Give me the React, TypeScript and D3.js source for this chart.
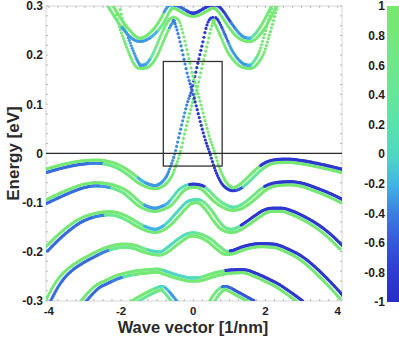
import React, { useMemo } from "react";
import * as d3 from "d3";

// knot: [wave vector k (1/nm), energy E (eV), colour value of upper strand, colour value of lower strand]
type Knot = [number, number, number, number];

const kTicks = [-4, -2, 0, 2, 4];
const eTicks = [0.3, 0.2, 0.1, 0, -0.1, -0.2, -0.3];
const cTicks = [1, 0.8, 0.6, 0.4, 0.2, 0, -0.2, -0.4, -0.6, -0.8, -1];
const cStops = [-1, -0.8, -0.6, -0.4, -0.2, 0, 0.2, 0.4, 0.6, 0.8, 1];
const cColors = ["#2a2ec6", "#2e3cd0", "#3458da", "#3b80e0", "#42b5e5", "#50d8c0", "#5ae2ac", "#65e69a", "#6ee88a", "#74e87a", "#78e86e"];

const boxK = [-0.83, 0.8];
const boxE = [-0.026, 0.187];

const bandU: Knot[] = [
  [-2.31, 0.302, 0.9, 0.8], [-2.15, 0.283, 0.9, 0.8], [-2.0, 0.266, 0.9, 0.6], [-1.85, 0.252, 0.9, -0.3],
  [-1.68, 0.238, 0.9, -0.3], [-1.48, 0.231, 0.9, -0.3], [-1.3, 0.235, 0.9, -0.3], [-1.11, 0.246, 0.9, -0.2],
  [-0.95, 0.26, 0.9, 0.5], [-0.83, 0.274, 0.9, 0.8], [-0.7, 0.292, -0.3, 0.9], [-0.6, 0.299, -0.3, 0.9],
  [-0.45, 0.297, -0.5, 0.9], [-0.3, 0.291, -0.5, 0.9], [-0.15, 0.285, -0.7, 0.9], [0, 0.282, -0.8, 0.9],
  [0.15, 0.285, -0.85, 0.9], [0.3, 0.291, -0.85, 0.9], [0.45, 0.297, -0.85, 0.9], [0.6, 0.299, -0.85, 0.9],
  [0.75, 0.29, -0.85, 0.9], [0.9, 0.274, -0.7, 0.9], [1.05, 0.258, -0.4, 0.9], [1.2, 0.244, -0.3, 0.9],
  [1.4, 0.233, -0.3, 0.9], [1.57, 0.231, -0.2, 0.9], [1.75, 0.24, 0.3, 0.9], [1.95, 0.26, 0.8, 0.9],
  [2.1, 0.28, 0.8, 0.9], [2.25, 0.302, 0.8, 0.9],
];

const bandL1: Knot[] = [
  [-2.12, 0.302, 0.8, 0.9], [-2.03, 0.272, 0.8, 0.9], [-1.94, 0.25, 0.8, 0.9], [-1.85, 0.231, -0.3, 0.9],
  [-1.72, 0.206, -0.3, 0.9], [-1.6, 0.186, -0.3, 0.9], [-1.48, 0.176, -0.3, 0.9], [-1.33, 0.177, -0.3, 0.9],
  [-1.2, 0.184, -0.2, 0.9], [-1.05, 0.202, 0.4, 0.9], [-0.92, 0.224, 0.7, 0.9], [-0.78, 0.248, 0.8, 0.9],
  [-0.66, 0.265, 0.9, -0.3], [-0.55, 0.274, 0.9, -0.4], [-0.47, 0.27, 0.9, -0.4], [-0.4, 0.256, 0.9, -0.4],
  [-0.3, 0.228, 0.9, -0.4], [-0.2, 0.196, 0.9, -0.4], [-0.1, 0.163, 0.9, -0.4], [0.03, 0.13, 0.9, -0.6],
  [0.15, 0.097, 0.9, -0.85], [0.28, 0.06, 0.9, -0.85], [0.4, 0.028, 0.9, -0.85], [0.53, 0.0, 0.9, -0.85],
  [0.63, -0.024, 0.9, -0.85], [0.73, -0.043, 0.9, -0.85], [0.85, -0.06, 0.9, -0.85], [0.97, -0.069, 0.9, -0.85],
  [1.1, -0.073, 0.9, -0.85], [1.25, -0.07, 0.9, -0.6], [1.4, -0.062, 0.9, 0.2], [1.6, -0.048, 0.9, 0.3],
  [1.8, -0.034, 0.9, 0.5], [2.0, -0.023, -0.85, 0.9], [2.3, -0.016, -0.85, 0.9], [2.6, -0.015, -0.85, 0.9],
  [3.0, -0.018, -0.85, 0.9], [3.5, -0.025, -0.85, 0.9], [4.13, -0.036, -0.85, 0.9],
];

const bandL2: Knot[] = [
  [-4.09, -0.036, 0.9, -0.5], [-3.6, -0.026, 0.9, -0.5], [-3.1, -0.019, 0.9, -0.5], [-2.68, -0.017, 0.9, -0.4],
  [-2.3, -0.021, 0.9, 0.6], [-2.0, -0.03, 0.9, 0.7], [-1.7, -0.045, 0.9, 0.7], [-1.45, -0.059, -0.2, 0.9],
  [-1.25, -0.066, -0.3, 0.9], [-1.06, -0.069, -0.3, 0.9], [-0.92, -0.066, -0.3, 0.9], [-0.78, -0.058, -0.3, 0.9],
  [-0.65, -0.044, -0.35, 0.9], [-0.55, -0.025, -0.35, 0.9], [-0.44, 0.0, -0.35, 0.9], [-0.3, 0.043, -0.35, 0.9],
  [-0.2, 0.073, -0.35, 0.9], [-0.1, 0.101, -0.4, 0.9], [0.03, 0.13, -0.6, 0.9], [0.13, 0.162, -0.85, 0.9],
  [0.23, 0.194, -0.85, 0.9], [0.33, 0.225, -0.85, 0.9], [0.42, 0.254, -0.85, 0.9], [0.5, 0.27, -0.85, 0.9],
  [0.57, 0.274, -0.85, 0.9], [0.66, 0.265, -0.7, 0.9], [0.8, 0.243, -0.5, 0.9], [1.0, 0.21, -0.3, 0.9],
  [1.2, 0.189, -0.3, 0.9], [1.4, 0.178, -0.3, 0.9], [1.57, 0.176, -0.2, 0.9], [1.75, 0.187, 0.3, 0.9],
  [1.9, 0.207, 0.8, 0.9], [2.02, 0.236, 0.8, 0.9], [2.12, 0.262, 0.8, 0.9], [2.2, 0.284, 0.8, 0.9],
  [2.27, 0.302, 0.8, 0.9],
];

const bandV2: Knot[] = [
  [-4.09, -0.099, 0.9, -0.5], [-3.8, -0.089, 0.9, -0.5], [-3.4, -0.076, 0.9, -0.5], [-3.0, -0.066, 0.9, -0.5],
  [-2.7, -0.063, 0.9, -0.4], [-2.4, -0.065, 0.9, -0.3], [-2.1, -0.071, 0.9, 0.5], [-1.9, -0.078, 0.9, 0.6],
  [-1.7, -0.09, 0.9, 0.6], [-1.5, -0.103, 0.7, 0.9], [-1.3, -0.111, -0.3, 0.9], [-1.06, -0.115, -0.3, 0.9],
  [-0.85, -0.111, -0.3, 0.9], [-0.65, -0.103, -0.2, 0.9], [-0.5, -0.09, 0.1, 0.9], [-0.37, -0.078, 0.1, 0.9],
  [-0.2, -0.069, 0.1, 0.9], [0, -0.066, -0.85, 0.9], [0.2, -0.068, -0.85, 0.9], [0.37, -0.077, 0.4, 0.9],
  [0.5, -0.087, 0.6, 0.9], [0.65, -0.097, 0.6, 0.9], [0.85, -0.107, 0.5, 0.9], [1.1, -0.113, 0.2, 0.9],
  [1.3, -0.11, 0.4, 0.9], [1.5, -0.101, 0.6, 0.9], [1.7, -0.089, 0.7, 0.9], [1.9, -0.076, 0.7, 0.9],
  [2.1, -0.067, -0.85, 0.9], [2.4, -0.062, -0.85, 0.9], [2.7, -0.061, -0.85, 0.9], [3.0, -0.064, -0.85, 0.9],
  [3.4, -0.074, -0.85, 0.9], [3.8, -0.086, -0.85, 0.9], [4.13, -0.098, -0.85, 0.9],
];

const bandV3: Knot[] = [
  [-4.09, -0.197, 0.9, -0.5], [-3.75, -0.172, 0.9, -0.5], [-3.5, -0.156, 0.9, -0.5], [-3.2, -0.14, 0.9, -0.5],
  [-2.95, -0.131, 0.9, -0.5], [-2.6, -0.124, 0.9, -0.4], [-2.3, -0.122, 0.9, 0.5], [-2.0, -0.127, 0.9, 0.6],
  [-1.75, -0.136, 0.9, 0.6], [-1.5, -0.147, 0.6, 0.9], [-1.29, -0.154, -0.2, 0.9], [-1.06, -0.158, -0.2, 0.9],
  [-0.85, -0.153, -0.2, 0.9], [-0.65, -0.142, 0.0, 0.9], [-0.45, -0.126, 0.0, 0.9], [-0.28, -0.112, 0.0, 0.9],
  [-0.1, -0.1, 0.0, 0.9], [0.1, -0.097, 0.1, 0.9], [0.3, -0.105, 0.6, 0.9], [0.46, -0.119, 0.7, 0.9],
  [0.65, -0.139, 0.7, 0.9], [0.83, -0.153, 0.6, 0.9], [1.06, -0.158, 0.4, 0.9], [1.25, -0.154, 0.4, 0.9],
  [1.45, -0.145, -0.85, 0.9], [1.76, -0.129, -0.85, 0.9], [2.0, -0.118, -0.85, 0.9], [2.2, -0.115, -0.85, 0.9],
  [2.45, -0.115, -0.85, 0.9], [2.7, -0.12, -0.85, 0.9], [3.0, -0.13, -0.85, 0.9], [3.42, -0.148, -0.85, 0.9],
  [3.8, -0.17, -0.85, 0.9], [4.13, -0.194, -0.85, 0.9],
];

const bandV4: Knot[] = [
  [-4.03, -0.302, 0.9, -0.5], [-3.8, -0.27, 0.9, -0.5], [-3.6, -0.25, 0.9, -0.5], [-3.4, -0.236, 0.9, -0.5],
  [-3.1, -0.221, 0.9, -0.5], [-2.8, -0.209, 0.9, -0.5], [-2.5, -0.198, 0.9, -0.4], [-2.2, -0.191, 0.9, 0.5],
  [-1.94, -0.188, 0.9, 0.6], [-1.66, -0.19, 0.9, 0.6], [-1.39, -0.197, 0.6, 0.9], [-1.15, -0.202, 0.0, 0.9],
  [-0.92, -0.204, 0.0, 0.9], [-0.72, -0.197, 0.0, 0.9], [-0.55, -0.187, 0.0, 0.9], [-0.35, -0.176, 0.1, 0.9],
  [-0.18, -0.168, 0.1, 0.9], [0, -0.165, 0.3, 0.9], [0.2, -0.168, 0.7, 0.9], [0.46, -0.178, 0.7, 0.9],
  [0.7, -0.193, 0.7, 0.9], [0.92, -0.203, 0.7, 0.9], [1.1, -0.201, -0.85, 0.9], [1.4, -0.193, -0.85, 0.9],
  [1.85, -0.187, -0.85, 0.9], [2.2, -0.188, -0.85, 0.9], [2.6, -0.198, -0.85, 0.9], [2.96, -0.212, -0.85, 0.9],
  [3.3, -0.232, -0.85, 0.9], [3.6, -0.253, -0.85, 0.9], [3.9, -0.276, -0.85, 0.9], [4.13, -0.295, -0.85, 0.9],
];

const bandV5: Knot[] = [
  [-3.06, -0.303, 0.9, -0.5], [-2.85, -0.285, 0.9, -0.5], [-2.68, -0.273, 0.9, -0.5], [-2.4, -0.262, 0.9, -0.5],
  [-2.1, -0.252, 0.9, -0.4], [-1.8, -0.246, 0.9, 0.3], [-1.5, -0.242, 0.8, 0.9], [-1.2, -0.24, 0.8, 0.9],
  [-1.0, -0.239, 0.7, 0.9], [-0.75, -0.244, 0.0, 0.9], [-0.55, -0.249, 0.0, 0.9], [-0.3, -0.254, 0.0, 0.9],
  [-0.09, -0.257, 0.0, 0.9], [0.1, -0.257, 0.1, 0.9], [0.3, -0.254, 0.6, 0.9], [0.46, -0.25, 0.8, 0.9],
  [0.65, -0.246, 0.8, 0.9], [0.83, -0.243, 0.8, 0.9], [1.0, -0.241, -0.85, 0.9], [1.38, -0.24, -0.85, 0.9],
  [1.7, -0.247, -0.85, 0.9], [2.03, -0.258, -0.85, 0.9], [2.3, -0.268, -0.85, 0.9], [2.59, -0.282, -0.85, 0.9],
  [2.8, -0.293, -0.85, 0.9], [3.0, -0.304, -0.85, 0.9],
];

const bandV6L: Knot[] = [
  [-1.68, -0.304, 0.9, 0.4], [-1.4, -0.292, 0.9, 0.4], [-1.15, -0.282, 0.9, 0.4], [-0.95, -0.276, 0.2, 0.9],
  [-0.87, -0.274, 0.0, 0.9], [-0.78, -0.279, -0.2, 0.6], [-0.65, -0.29, -0.3, 0.5], [-0.5, -0.304, -0.3, 0.5],
];

const bandV6R: Knot[] = [
  [0.5, -0.304, 0.9, 0.7], [0.62, -0.29, 0.9, 0.7], [0.75, -0.279, 0.6, 0.9], [0.88, -0.274, -0.5, 0.9],
  [0.97, -0.276, -0.5, 0.9], [1.15, -0.283, -0.6, 0.9], [1.4, -0.293, -0.6, 0.9], [1.67, -0.304, -0.6, 0.9],
];

const bands: Knot[][] = [bandV6L, bandV6R, bandV5, bandV4, bandV3, bandV2, bandL2, bandL1, bandU];

const W = 399;
const H = 338;
const PL = 46, PR = 342, PT = 6, PB = 301;
const DK = 0.028; // dot spacing in k
const OFFX = 2.5; // strand offset, horizontal part (px)
const OFFY = 1.6; // strand offset, vertical part (px)
const R = 1.6; // dot radius
const FONT = "'Liberation Sans', Arial, Helvetica, sans-serif";

type Sample = { k: number; E: number; cu: number; cl: number };

function sampleBand(knots: Knot[]): Sample[] {
  const n = knots.length;
  const xs = knots.map((d) => d[0]);
  const ys = knots.map((d) => d[1]);
  const h: number[] = [];
  const s: number[] = [];
  for (let i = 0; i < n - 1; i++) {
    h.push(xs[i + 1] - xs[i]);
    s.push((ys[i + 1] - ys[i]) / h[i]);
  }
  const t = new Array(n).fill(0);
  for (let i = 1; i < n - 1; i++) {
    const s0 = s[i - 1], s1 = s[i], h0 = h[i - 1], h1 = h[i];
    const p = (s0 * h1 + s1 * h0) / (h0 + h1);
    t[i] = (Math.sign(s0) + Math.sign(s1)) * Math.min(Math.abs(s0), Math.abs(s1), 0.5 * Math.abs(p));
  }
  t[0] = (3 * s[0] - t[1]) / 2;
  t[n - 1] = (3 * s[n - 2] - t[n - 2]) / 2;
  const out: Sample[] = [];
  let i = 0;
  const steps = Math.floor((xs[n - 1] - xs[0]) / DK + 1e-9);
  for (let j = 0; j <= steps; j++) {
    const k = xs[0] + j * DK;
    while (i < n - 2 && k > xs[i + 1]) i++;
    const u = (k - xs[i]) / h[i];
    const u2 = u * u, u3 = u2 * u;
    const E =
      (2 * u3 - 3 * u2 + 1) * ys[i] +
      (u3 - 2 * u2 + u) * h[i] * t[i] +
      (-2 * u3 + 3 * u2) * ys[i + 1] +
      (u3 - u2) * h[i] * t[i + 1];
    const kn = u < 0.5 ? knots[i] : knots[i + 1];
    out.push({ k, E, cu: kn[2], cl: kn[3] });
  }
  return out;
}

export default function App() {
  const x = d3.scaleLinear().domain([-4.08, 4.12]).range([PL, PR]);
  const y = d3.scaleLinear().domain([-0.3, 0.3]).range([300.6, PT]);
  const color = d3.scaleLinear<string>().domain(cStops).range(cColors).interpolate(d3.interpolateRgb);
  const cbY = d3.scaleLinear().domain([-1, 1]).range([302, 6]);

  const dots = useMemo(() => {
    const all: { x: number; y: number; c: string }[][] = [];
    bands.forEach((band) => {
      const smp = sampleBand(band);
      const pts = smp.map((p) => ({ x: x(p.k), y: y(p.E), cu: p.cu, cl: p.cl }));
      const up: { x: number; y: number; c: string }[] = [];
      const lo: { x: number; y: number; c: string }[] = [];
      pts.forEach((p, j) => {
        const a = pts[Math.max(0, j - 1)];
        const b = pts[Math.min(pts.length - 1, j + 1)];
        const dx = b.x - a.x, dy = b.y - a.y;
        const len = Math.hypot(dx, dy) || 1;
        const nx = (dy / len) * OFFX, ny = (-dx / len) * OFFY;
        up.push({ x: p.x + nx, y: p.y + ny, c: color(p.cu) });
        lo.push({ x: p.x - nx, y: p.y - ny, c: color(p.cl) });
      });
      all.push(lo, up);
    });
    return all;
  }, []);

  const minorK = d3.range(-4, 4.01, 0.25);
  const minorE = d3.range(-0.3, 0.301, 0.02);

  return (
    <svg width={W} height={H} style={{ position: "absolute", left: 0, top: 0, background: "#fff" }} fontFamily={FONT}>
      <defs>
        <clipPath id="plotClip">
          <rect x={PL} y={PT} width={PR - PL} height={PB - PT} />
        </clipPath>
        <linearGradient id="cbGrad" x1="0" y1="1" x2="0" y2="0">
          {cStops.map((v, i) => (
            <stop key={i} offset={`${((v + 1) / 2) * 100}%`} stopColor={cColors[i]} />
          ))}
        </linearGradient>
      </defs>

      {/* frame */}
      <rect x={PL} y={PT} width={PR - PL} height={PB - PT} fill="#fff" stroke="#d6d6d6" strokeWidth={1} />
      {minorK.map((k, i) => (
        <g key={`mk${i}`} stroke="#b8b8b8" strokeWidth={1}>
          <line x1={x(k)} x2={x(k)} y1={PT} y2={PT + 2} />
          <line x1={x(k)} x2={x(k)} y1={PB} y2={PB - 2} />
        </g>
      ))}
      {minorE.map((e, i) => (
        <g key={`me${i}`} stroke="#b8b8b8" strokeWidth={1}>
          <line x1={PL} x2={PL + 2} y1={y(e)} y2={y(e)} />
          <line x1={PR} x2={PR - 2} y1={y(e)} y2={y(e)} />
        </g>
      ))}

      {/* bands */}
      <g clipPath="url(#plotClip)">
        {dots.map((strand, si) => (
          <g key={si}>
            {strand.map((d, di) => (
              <circle key={di} cx={d.x} cy={d.y} r={R} fill={d.c} />
            ))}
          </g>
        ))}
      </g>

      {/* zero line and box */}
      <line x1={PL} x2={PR} y1={y(0)} y2={y(0)} stroke="#2a2a2a" strokeWidth={1.3} />
      <rect
        x={x(boxK[0])}
        y={y(boxE[1])}
        width={x(boxK[1]) - x(boxK[0])}
        height={y(boxE[0]) - y(boxE[1])}
        fill="none"
        stroke="#333"
        strokeWidth={1.3}
      />

      {/* axes labels */}
      {kTicks.map((k) => (
        <text key={`kt${k}`} x={x(k)} y={315} textAnchor="middle" fontSize={11.5} fontWeight="bold" fill="#1e1e1e">
          {String(k)}
        </text>
      ))}
      {eTicks.map((e) => (
        <text key={`et${e}`} x={43} y={y(e)} dy="0.36em" textAnchor="end" fontSize={12} fontWeight="bold" fill="#1e1e1e">
          {String(e)}
        </text>
      ))}
      <text x={193} y={333} textAnchor="middle" fontSize={16.5} fontWeight="bold" fill="#2a2a2a">
        Wave vector [1/nm]
      </text>
      <text
        transform={`translate(19,${(PT + PB) / 2}) rotate(-90)`}
        textAnchor="middle"
        fontSize={17}
        fontWeight="bold"
        fill="#2a2a2a"
      >
        Energy [eV]
      </text>

      {/* colorbar */}
      <rect x={387} y={cbY(1)} width={12} height={cbY(-1) - cbY(1)} fill="url(#cbGrad)" />
      {cTicks.map((c) => (
        <text key={`ct${c}`} x={385} y={cbY(c)} dy="0.36em" textAnchor="end" fontSize={12} fontWeight="bold" fill="#1e1e1e">
          {String(c)}
        </text>
      ))}
    </svg>
  );
}
